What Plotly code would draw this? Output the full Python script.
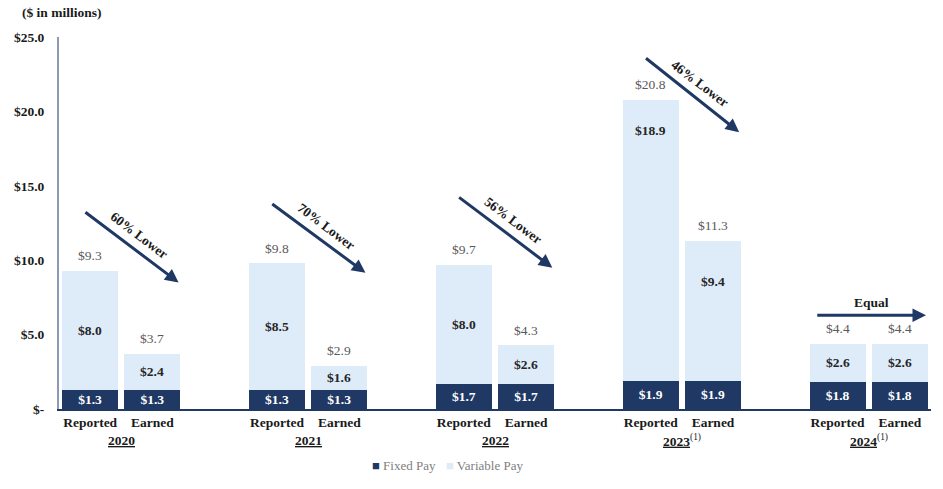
import plotly.graph_objects as go

years = ["2020", "2021", "2022", "2023", "2024"]
year_notes = ["", "", "", "(1)", "(1)"]
kinds = ["Reported", "Earned"]
fixed_pay = [1.3, 1.3, 1.3, 1.3, 1.7, 1.7, 1.9, 1.9, 1.8, 1.8]
variable_pay = [8.0, 2.4, 8.5, 1.6, 8.0, 2.6, 18.9, 9.4, 2.6, 2.6]
totals = [9.3, 3.7, 9.8, 2.9, 9.7, 4.3, 20.8, 11.3, 4.4, 4.4]
change_labels = ["60% Lower", "70% Lower", "56% Lower", "46% Lower", "Equal"]
series_names = ["Fixed Pay", "Variable Pay"]

NAVY = "#1f3864"
LIGHT = "#deebf8"
FONT = "Liberation Serif"

# layout helpers (positions, not data)
xpos = [g * 3 + k for g in range(len(years)) for k in range(len(kinds))]
var_label_override = {6: 18.75, 7: 8.55}
arrow_tail_y = [13.3, 13.85, 14.3, 23.65]
arrow_head_y = [8.5, 9.15, 9.5, 18.6]

fig = go.Figure()
fig.add_trace(go.Bar(
    x=xpos, y=fixed_pay, name=series_names[0], marker=dict(color=NAVY, line=dict(width=0)),
    text=[f"${v:.1f}" for v in fixed_pay], textposition="inside", insidetextanchor="middle",
    textangle=0, constraintext="none",
    textfont=dict(family=FONT, size=13.5, color="white", weight="bold"),
))
fig.add_trace(go.Bar(
    x=xpos, y=variable_pay, name=series_names[1], marker=dict(color=LIGHT, line=dict(width=0)),
    hoverinfo="y",
))

ann = []
for i, (f, v, t) in enumerate(zip(fixed_pay, variable_pay, totals)):
    ly = var_label_override.get(i, f + v / 2)
    ann.append(dict(x=xpos[i], y=ly, text=f"<b>${v:.1f}</b>", showarrow=False,
                    font=dict(family=FONT, size=13.5, color="#262626")))
    ann.append(dict(x=xpos[i], y=t, yshift=15, text=f"${t:.1f}", showarrow=False,
                    font=dict(family=FONT, size=13.5, color="#595959")))

for g, (yr, note) in enumerate(zip(years, year_notes)):
    txt = f"<b><u>{yr}</u></b>"
    if note:
        txt += f"<sup>{note}</sup>"
    ann.append(dict(x=g * 3 + 0.5, y=0, yref="y", yshift=-31, text=txt, showarrow=False,
                    font=dict(family=FONT, size=13.5, color="#1a1a1a")))

for g in range(4):
    x0, x1 = g * 3 - 0.1, g * 3 + 1.42
    ann.append(dict(x=x1, y=arrow_head_y[g], ax=x0, ay=arrow_tail_y[g], axref="x", ayref="y",
                    xref="x", yref="y", text="", showarrow=True, arrowhead=2, arrowsize=0.9,
                    arrowwidth=3, arrowcolor=NAVY, standoff=0, startstandoff=0))
    ann.append(dict(x=(x0 + x1) / 2, y=(arrow_tail_y[g] + arrow_head_y[g]) / 2, xshift=8, yshift=11,
                    text=f"<b>{change_labels[g]}</b>", textangle=37, showarrow=False,
                    font=dict(family=FONT, size=13.5, color="#1a1a1a")))

# Equal arrow
ann.append(dict(x=13.42, y=6.3, ax=11.65, ay=6.3, axref="x", ayref="y", xref="x", yref="y",
                text="", showarrow=True, arrowhead=2, arrowsize=0.9, arrowwidth=3,
                arrowcolor=NAVY, standoff=0, startstandoff=0))
ann.append(dict(x=12.55, y=6.3, yshift=13, text=f"<b>{change_labels[4]}</b>", showarrow=False,
                font=dict(family=FONT, size=13.5, color="#1a1a1a")))

ann.append(dict(x=0.003, y=1, xref="paper", yref="paper", yshift=25, text="<b>($ in millions)</b>",
                showarrow=False, xanchor="center", yanchor="middle",
                font=dict(family=FONT, size=13.5, color="#1a1a1a")))

# manual legend
legend_x = [0.357, 0.442]
for name, col, lx in zip(series_names, [NAVY, LIGHT], legend_x):
    ann.append(dict(x=lx, y=0, xref="paper", yref="paper", yshift=-66, xanchor="left",
                    text=f"<span style='color:{col}'>■</span> {name}", showarrow=False,
                    font=dict(family=FONT, size=13, color="#808080")))

fig.update_layout(
    barmode="stack", bargap=0.1,
    width=943, height=489,
    margin=dict(l=59, r=12, t=37, b=80, autoexpand=False),
    plot_bgcolor="white", paper_bgcolor="white",
    font=dict(family=FONT, size=13, color="#1a1a1a"),
    annotations=ann,
    showlegend=False,
    xaxis=dict(range=[-0.5, 13.5], tickmode="array", tickvals=xpos, automargin=False,
               ticktext=[f"<b>{k}</b>" for _ in years for k in kinds],
               showline=True, linecolor=NAVY, linewidth=1.5, showgrid=False, zeroline=False,
               ticks="", tickfont=dict(family=FONT, size=13.5, color="#1a1a1a")),
    yaxis=dict(range=[0, 25], tickvals=[0, 5, 10, 15, 20, 25], automargin=False,
               ticktext=["<b>$-</b>", "<b>$5.0</b>", "<b>$10.0</b>", "<b>$15.0</b>", "<b>$20.0</b>", "<b>$25.0</b>"],
               showline=True, linecolor="#8e9ab5", linewidth=2, showgrid=False, zeroline=False,
               ticks="outside", ticklen=10, tickcolor="rgba(0,0,0,0)",
               tickfont=dict(family=FONT, size=13.5, color="#1a1a1a")),
)

fig.write_html("out.html", post_script="document.body.style.margin='0';",
               config={"displayModeBar": False})
